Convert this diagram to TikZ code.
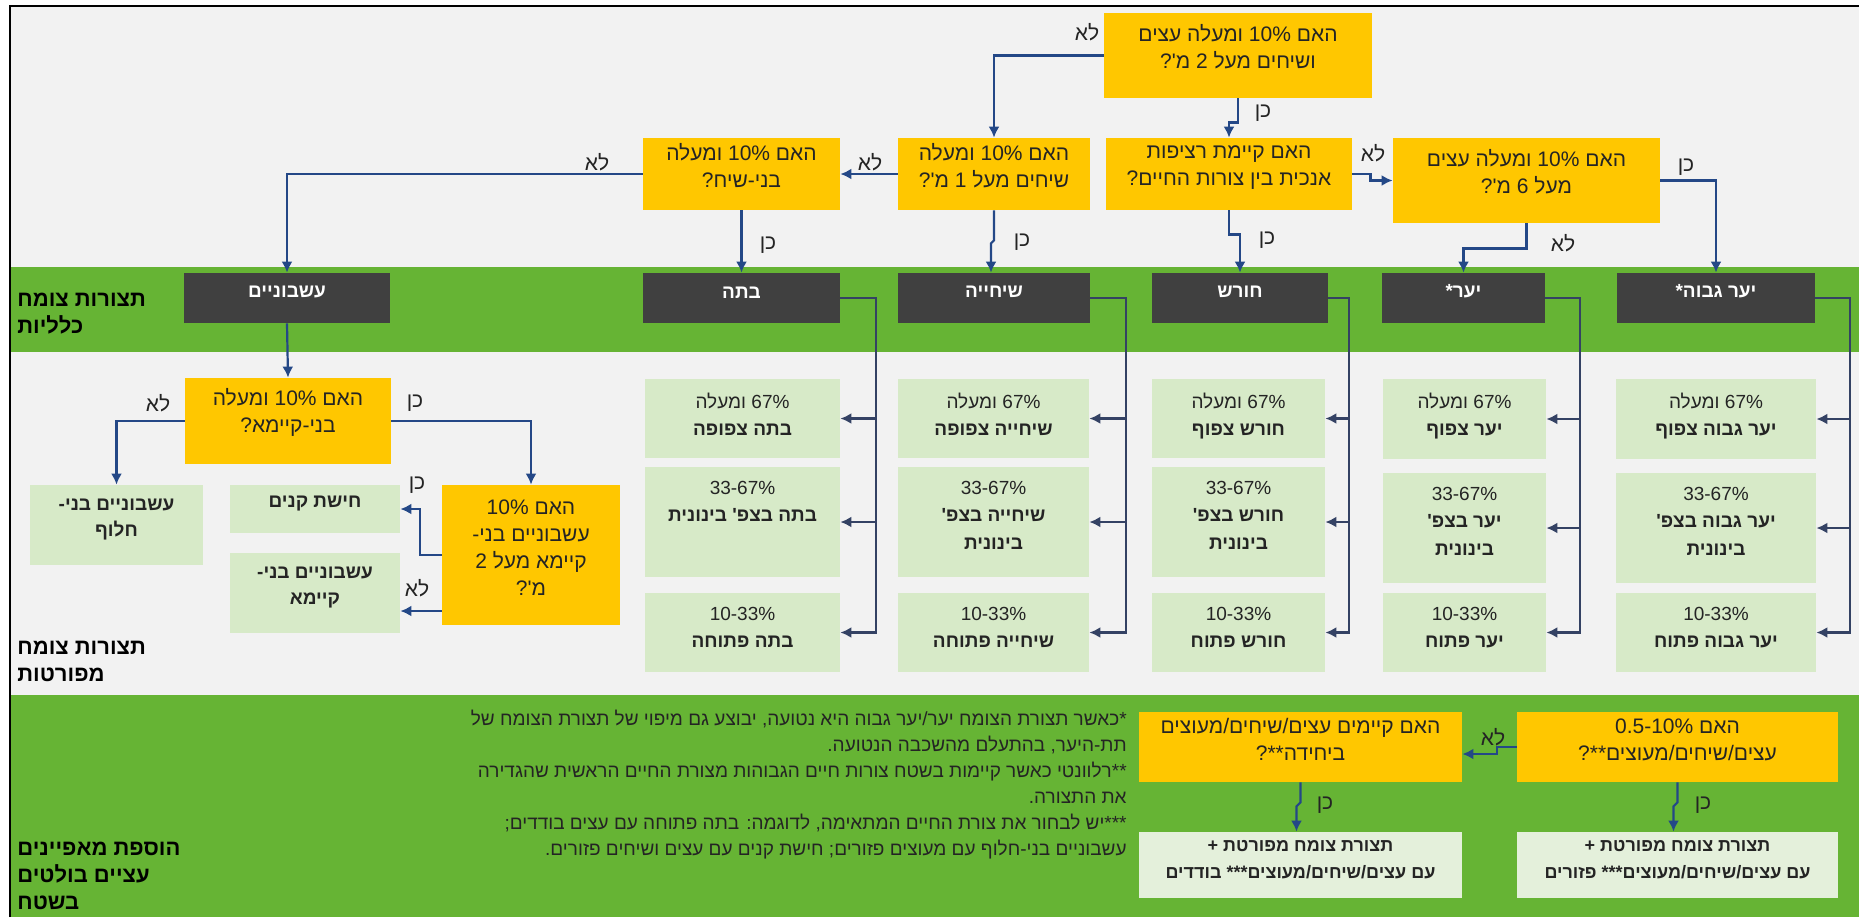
\documentclass[tikz,border=0pt]{standalone}
\usepackage{fontspec}
\setmainfont{Liberation Sans}
\newfontfamily\heb[Script=Hebrew]{Liberation Sans}
\TeXXeTstate=1
\usetikzlibrary{fit,arrows.meta,calc}
\definecolor{bg}{RGB}{242,242,242}
\definecolor{gr}{RGB}{102,180,52}
\definecolor{qy}{RGB}{255,199,0}
\definecolor{dk}{RGB}{64,64,64}
\definecolor{lg}{RGB}{215,234,200}
\definecolor{lg2}{RGB}{228,240,219}
\definecolor{ar}{RGB}{36,72,135}
\definecolor{ar2}{RGB}{52,66,100}
\definecolor{txt}{RGB}{36,36,36}
\newcommand\rl[1]{\beginR #1\endR}
\newcommand\rlb[1]{{\bfseries\beginR #1\endR}}
\newcommand\cell[7]{%
  \node[lbox, fit={(#2,#3) (#4,#5)}] (#1) {};
  \node[ltext, anchor=north] (#1t) at ($(#1.north)+(0,14)$) {\rl{#6}\\#7};}
\begin{document}
\begin{tikzpicture}[x={(0.5pt,0)}, y={(0,-0.5pt)},
  ybox/.style={fill=qy, inner sep=0pt, align=center, text=txt, font=\heb\fontsize{10.5}{13.5}\selectfont},
  dbox/.style={fill=dk, inner sep=0pt, text=white, font=\heb\bfseries\fontsize{9.5}{12}\selectfont},
  lbox/.style={fill=lg, inner sep=0pt},
  ltext/.style={inner sep=0pt, align=center, text=txt, font=\heb\fontsize{9.5}{13.75}\selectfont},
  bbox/.style={fill=lg, inner sep=0pt, align=center, text=txt, font=\heb\bfseries\fontsize{9.5}{13}\selectfont},
  rbox/.style={fill=lg2, inner sep=0pt, align=center, text=txt, font=\heb\bfseries\fontsize{9}{13.5}\selectfont},
  arr/.style={draw=ar, line width=1.1pt, -{Latex[length=5.5pt,width=5.5pt]}},
  arrb/.style={draw=ar2, line width=1.1pt, -{Latex[length=5.5pt,width=5.5pt]}},
  lab/.style={inner sep=0pt, text=txt, font=\heb\fontsize{10.5}{12}\selectfont},
  side/.style={inner sep=0pt, anchor=west, align=left, text=black, font=\heb\bfseries\fontsize{11}{13.5}\selectfont},
  note/.style={inner sep=0pt, align=right, text=txt, font=\heb\fontsize{9.5}{13}\selectfont}]
\useasboundingbox (0,0) rectangle (1859,917);
\fill[white] (0,0) rectangle (1859,917);
\fill[bg] (10,6) rectangle (1859,917);
\fill[gr] (10,267) rectangle (1859,352);
\fill[gr] (10,695) rectangle (1859,917);
\draw[black, line width=1.2pt] (10,917) -- (10,6) -- (1859,6);

% side labels
\node[side] (s1) at (17,314) {\rl{תצורות צומח}\\\rl{כלליות}};
\node[side] (s2) at (17,661) {\rl{תצורות צומח}\\\rl{מפורטות}};
\node[side] (s3) at (17,876) {\rl{הוספת מאפיינים}\\\rl{עציים בולטים}\\\rl{בשטח}};

% question boxes
\node[ybox, fit={(1104,13) (1372,98)}] (q1) {\rl{האם 10\% ומעלה עצים}\\\rl{ושיחים מעל 2 מ'?}};
\node[ybox, fit={(1106,138) (1352,210)}] (q2) {\rl{האם קיימת רציפות}\\\rl{אנכית בין צורות החיים?}};
\node[ybox, fit={(1393,138) (1660,223)}] (q3) {\rl{האם 10\% ומעלה עצים}\\\rl{מעל 6 מ'?}};
\node[ybox, fit={(898,138) (1090,210)}] (q4) {\rl{האם 10\% ומעלה}\\\rl{שיחים מעל 1 מ'?}};
\node[ybox, fit={(643,138) (840,210)}] (q5) {\rl{האם 10\% ומעלה}\\\rl{בני-שיח?}};
\node[ybox, fit={(185,378) (391,464)}] (q6) {\rl{האם 10\% ומעלה}\\\rl{בני-קיימא?}};
\node[ybox, fit={(442,485) (620,625)}] (q9) {\rl{האם 10\%}\\\rl{עשבוניים בני-}\\\rl{קיימא מעל 2}\\\rl{מ'?}};
\node[ybox, fit={(1139,712) (1462,782)}] (q8) {\rl{האם קיימים עצים/שיחים/מעוצים}\\\rl{ביחידה**?}};
\node[ybox, fit={(1517,712) (1838,782)}] (q7) {\rl{האם 0.5-10\%}\\\rl{עצים/שיחים/מעוצים**?}};

% general forms
\node[dbox, fit={(184,273) (390,323)}] (des) {\rl{עשבוניים}};
\node[dbox, fit={(643,273) (840,323)}] (dbt) {\rl{בתה}};
\node[dbox, fit={(898,273) (1090,323)}] (dsh) {\rl{שיחייה}};
\node[dbox, fit={(1152,273) (1328,323)}] (dho) {\rl{חורש}};
\node[dbox, fit={(1382,273) (1545,323)}] (dya) {\rl{יער*}};
\node[dbox, fit={(1617,273) (1815,323)}] (dyg) {\rl{יער גבוה*}};

% detailed forms
\cell{bt1}{645}{379}{840}{458}{67\% ומעלה}{\rlb{בתה צפופה}}
\cell{bt2}{645}{467}{840}{577}{33-67\%}{\rlb{בתה בצפ' בינונית}}
\cell{bt3}{645}{593}{840}{672}{10-33\%}{\rlb{בתה פתוחה}}
\cell{sh1}{898}{379}{1089}{458}{67\% ומעלה}{\rlb{שיחייה צפופה}}
\cell{sh2}{898}{467}{1089}{577}{33-67\%}{\rlb{שיחייה בצפ'}\\\rlb{בינונית}}
\cell{sh3}{898}{593}{1089}{672}{10-33\%}{\rlb{שיחייה פתוחה}}
\cell{ho1}{1152}{379}{1325}{458}{67\% ומעלה}{\rlb{חורש צפוף}}
\cell{ho2}{1152}{467}{1325}{577}{33-67\%}{\rlb{חורש בצפ'}\\\rlb{בינונית}}
\cell{ho3}{1152}{593}{1325}{672}{10-33\%}{\rlb{חורש פתוח}}
\cell{ya1}{1383}{379}{1546}{459}{67\% ומעלה}{\rlb{יער צפוף}}
\cell{ya2}{1383}{473}{1546}{583}{33-67\%}{\rlb{יער בצפ'}\\\rlb{בינונית}}
\cell{ya3}{1383}{593}{1546}{672}{10-33\%}{\rlb{יער פתוח}}
\cell{yg1}{1616}{379}{1816}{459}{67\% ומעלה}{\rlb{יער גבוה צפוף}}
\cell{yg2}{1616}{473}{1816}{583}{33-67\%}{\rlb{יער גבוה בצפ'}\\\rlb{בינונית}}
\cell{yg3}{1616}{593}{1816}{672}{10-33\%}{\rlb{יער גבוה פתוח}}

% herbaceous branch
\node[bbox, fit={(30,485) (203,565)}] (bh) {\rl{עשבוניים בני-}\\\rl{חלוף}};
\node[bbox, fit={(230,485) (400,533)}] (kn) {\rl{חישת קנים}};
\node[bbox, fit={(230,553) (400,633)}] (bk) {\rl{עשבוניים בני-}\\\rl{קיימא}};

% results
\node[rbox, fit={(1139,832) (1462,898)}] (r8) {\rl{תצורת צומח מפורטת +}\\\rl{עם עצים/שיחים/מעוצים*** בודדים}};
\node[rbox, fit={(1517,832) (1838,898)}] (r7) {\rl{תצורת צומח מפורטת +}\\\rl{עם עצים/שיחים/מעוצים*** פזורים}};

% notes
\node[note, anchor=east] (nt) at (1127,785) {%
\rl{*כאשר תצורת הצומח יער/יער גבוה היא נטועה, יבוצע גם מיפוי של תצורת הצומח של}\\
\rl{תת-היער, בהתעלם מהשכבה הנטועה.}\\
\rl{**רלוונטי כאשר קיימות בשטח צורות חיים הגבוהות מצורת החיים הראשית שהגדירה}\\
\rl{את התצורה.}\\
\rl{***יש לבחור את צורת החיים המתאימה, לדוגמה: בתה פתוחה עם עצים בודדים;}\\
\rl{עשבוניים בני-חלוף עם מעוצים פזורים; חישת קנים עם עצים ושיחים פזורים.}};

% connectors top
\draw[arr] (q1.west) -| (q4.north);
\draw[arr] (q1.south) -- ++(0,24) -| (q2.north);
\draw[arr] (q2.east) -- ++(18,0) |- (q3.west);
\draw[arr] (q2.south) -- ++(0,24) -| (dho.north);
\draw[arr] (q3.east) -| (dyg.north);
\draw[arr] (q3.south) -- ++(0,25) -| (dya.north);
\draw[arr] (q4.west) -- (q5.east);
\draw[arr] (q4.south) -- ++(0,30) -- ++(-3,3) -- ($(dsh.north)+(-3,0)$);
\draw[arr] (q5.south) -- (dbt.north);
\draw[arr] (q5.west) -| (des.north);
\draw[arr] (des.south) -- (q6.north);
\draw[arr] (q6.west) -| (bh.north);
\draw[arr] (q6.east) -| (q9.north);
\draw[arr] (q9.west) -- ++(-22,0) |- (kn.east);
\coordinate (bka) at (0,611);
\draw[arr] (q9.west |- bka) -- (bk.east |- bka);
\draw[arr] (q7.west) -- ++(-20,0) |- ($(q8.east)+(0,7)$);
\draw[arr] (q8.south) -- ++(0,20) -- ++(-4,4) -- ($(r8.north)+(-4,0)$);
\draw[arr] (q7.south) -- ++(0,20) -- ++(-4,4) -- ($(r7.north)+(-4,0)$);

% connectors to detailed forms
\foreach \d/\c/\x in {dbt/bt/876, dsh/sh/1126, dho/ho/1349, dya/ya/1580, dyg/yg/1850}{
  \coordinate (v\c) at (\x,298);
  \draw[arrb] (\d.east) -- (v\c) |- (\c3.east);
  \draw[arrb] (v\c) |- (\c1.east);
  \draw[arrb] (v\c) |- (\c2.east);
}

% yes/no labels
\node[lab] (a1) at (1087,32) {\rl{לא}};
\node[lab] (a2) at (1263,113) {\rl{כן}};
\node[lab] (a3) at (1373,153) {\rl{לא}};
\node[lab] (a4) at (1267,240) {\rl{כן}};
\node[lab] (a5) at (1686,167) {\rl{כן}};
\node[lab] (a6) at (1563,243) {\rl{לא}};
\node[lab] (a7) at (870,162) {\rl{לא}};
\node[lab] (a8) at (1022,242) {\rl{כן}};
\node[lab] (a9) at (768,245) {\rl{כן}};
\node[lab] (a10) at (597,162) {\rl{לא}};
\node[lab] (a11) at (158,403) {\rl{לא}};
\node[lab] (a12) at (415,403) {\rl{כן}};
\node[lab] (a13) at (417,485) {\rl{כן}};
\node[lab] (a14) at (417,588) {\rl{לא}};
\node[lab] (a15) at (1493,737) {\rl{לא}};
\node[lab] (a16) at (1325,805) {\rl{כן}};
\node[lab] (a17) at (1703,805) {\rl{כן}};
\end{tikzpicture}
\end{document}
